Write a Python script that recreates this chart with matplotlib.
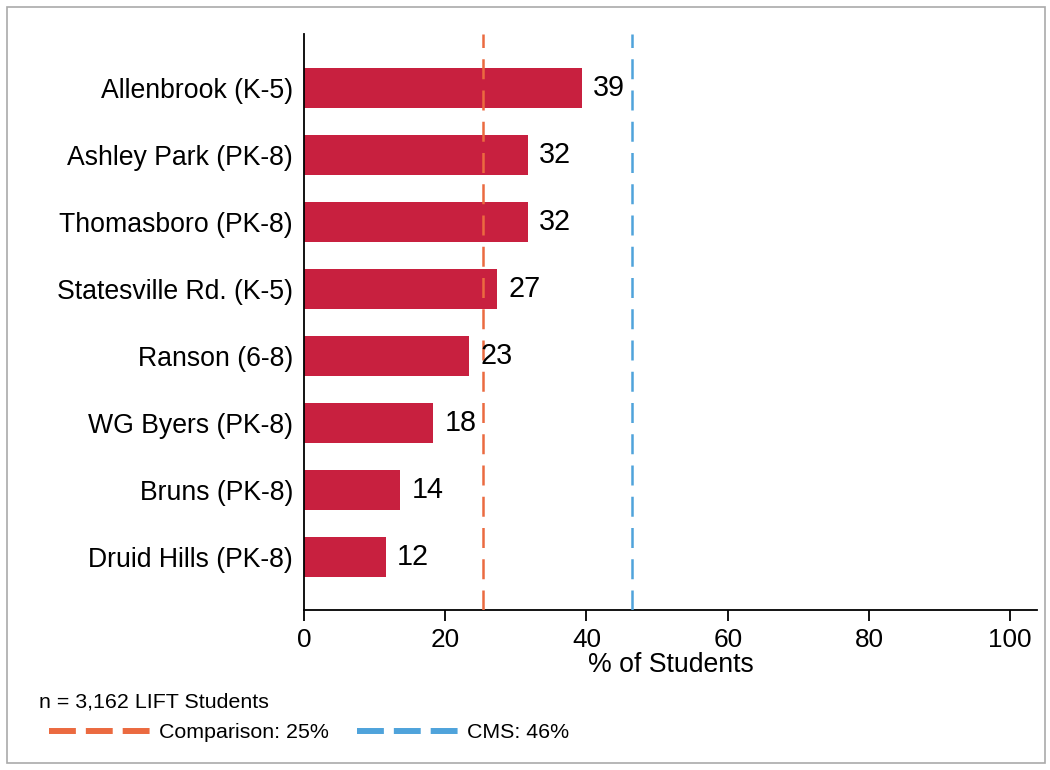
import matplotlib.pyplot as plt
from matplotlib.lines import Line2D
from matplotlib.patches import Rectangle

plt.rcParams['font.family'] = ['Liberation Sans', 'DejaVu Sans']

schools = ['Allenbrook (K-5)', 'Ashley Park (PK-8)', 'Thomasboro (PK-8)',
           'Statesville Rd. (K-5)', 'Ranson (6-8)', 'WG Byers (PK-8)',
           'Bruns (PK-8)', 'Druid Hills (PK-8)']
pct = [39.3, 31.7, 31.7, 27.3, 23.4, 18.3, 13.6, 11.6]
comparison = 25.4
cms = 46.4
x_ticks = [0, 20, 40, 60, 80, 100]

bar_color = '#C8203F'
comp_color = '#EB6A40'
cms_color = '#4FA3DB'

fig = plt.figure(figsize=(10.5, 7.7), dpi=100)
ax = fig.add_axes([304 / 1050, 1 - 610 / 770, (1037 - 304) / 1050, (610 - 34) / 770])

ypos = list(range(len(schools)))
ax.barh(ypos, pct, height=0.6, color=bar_color, zorder=2)
for y, v in zip(ypos, pct):
    ax.text(v + 1.6, y, f'{round(v)}', va='center', ha='left', fontsize=20.7, zorder=4)

ax.axvline(comparison, color=comp_color, lw=1.8, dashes=(8, 4.5), zorder=3)
ax.axvline(cms, color=cms_color, lw=1.8, dashes=(8, 4.5), zorder=3)

ax.set_ylim(7.79, -0.81)
ax.set_xlim(0, 103.8)
ax.set_yticks(ypos)
ax.set_yticklabels(schools, fontsize=19.2)
ax.set_xticks(x_ticks)
ax.tick_params(axis='x', labelsize=18.8, length=8, width=1.3, pad=5)
ax.tick_params(axis='y', length=0, pad=8)
ax.set_xlabel('% of Students', fontsize=19.2, labelpad=0)
for s in ['top', 'right']:
    ax.spines[s].set_visible(False)
ax.spines['left'].set_linewidth(1.3)
ax.spines['bottom'].set_linewidth(1.3)

fig.text(39 / 1050, 1 - 702 / 770, 'n = 3,162 LIFT Students', fontsize=15.4, va='center')
handles = [Line2D([], [], color=comp_color, lw=4.3, dashes=(4.5, 1.67)),
           Line2D([], [], color=cms_color, lw=4.3, dashes=(4.5, 1.67))]
fig.legend(handles, ['Comparison: 25%', 'CMS: 46%'], loc='center left',
           bbox_to_anchor=(49 / 1050, 1 - 733 / 770), ncol=2, frameon=False,
           fontsize=15.4, handlelength=4.72, handletextpad=0.42, columnspacing=1.3,
           borderaxespad=0, borderpad=0)

fig.patches.append(Rectangle((7 / 1050, 7 / 770), 1038 / 1050, 756 / 770,
                             transform=fig.transFigure, fill=False,
                             edgecolor='#AAAAAA', lw=1.2))

fig.savefig('out.png', dpi=100)
